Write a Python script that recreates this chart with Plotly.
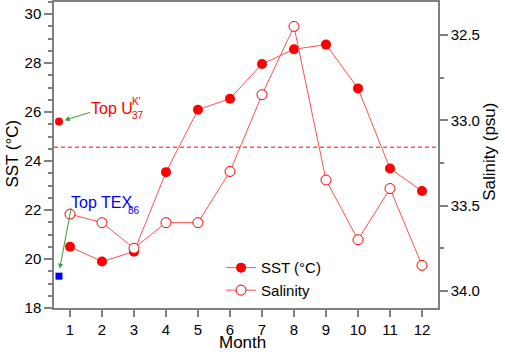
import plotly.graph_objects as go

months = [1, 2, 3, 4, 5, 6, 7, 8, 9, 10, 11, 12]
sst = [20.5, 19.9, 20.3, 23.55, 26.1, 26.55, 27.97, 28.57, 28.76, 26.97, 23.7, 22.78]
salinity = [33.55, 33.60, 33.75, 33.60, 33.60, 33.30, 32.85, 32.45, 33.35, 33.70, 33.40, 33.85]
top_uk37 = 25.62
top_tex86 = 19.3
core_top_x = 0.656
mean_sst = 24.57
x_ticks = months
left_ticks = [18, 20, 22, 24, 26, 28, 30]
right_ticks = [32.5, 33.0, 33.5, 34.0]

FONT = "Arial, Liberation Sans, sans-serif"
RED = "#ff0000"
LINE_RED = "#ff5050"
GRAY = "#808080"
GREEN = "#3a9a3a"

fig = go.Figure()
fig.add_trace(go.Scatter(
    x=months, y=sst, name="SST (°C)", mode="lines+markers",
    line=dict(color=LINE_RED, width=1),
    marker=dict(symbol="circle", size=10, color=RED),
))
fig.add_trace(go.Scatter(
    x=months, y=salinity, name="Salinity", mode="lines+markers", yaxis="y2",
    line=dict(color=LINE_RED, width=1),
    marker=dict(symbol="circle", size=10, color="white", line=dict(color=RED, width=1)),
))
fig.add_trace(go.Scatter(
    x=[core_top_x], y=[top_uk37], mode="markers", showlegend=False,
    marker=dict(symbol="circle", size=8, color=RED),
))
fig.add_trace(go.Scatter(
    x=[core_top_x], y=[top_tex86], mode="markers", showlegend=False,
    marker=dict(symbol="square", size=7, color="#0000ff"),
))

fig.add_shape(type="line", xref="paper", yref="y", x0=0, x1=1, y0=mean_sst, y1=mean_sst,
              line=dict(color=RED, width=1, dash="4px,3px"))

ann = []
# arrows
ann.append(dict(x=0.834, y=25.67, ax=1.669, ay=26.01, xref="x", yref="y", axref="x", ayref="y",
                showarrow=True, arrowhead=2, arrowsize=1, arrowwidth=1, arrowcolor=GREEN, text=""))
ann.append(dict(x=0.678, y=19.61, ax=1.044, ay=22.13, xref="x", yref="y", axref="x", ayref="y",
                showarrow=True, arrowhead=2, arrowsize=1, arrowwidth=1, arrowcolor=GREEN, text=""))
# texts
ann.append(dict(x=1.59, y=26.16, xref="x", yref="y", text="Top U", showarrow=False,
                xanchor="left", yanchor="middle", font=dict(family=FONT, size=16, color=RED)))
ann.append(dict(x=2.88, y=26.45, xref="x", yref="y", text="K'", showarrow=False,
                xanchor="left", yanchor="middle", font=dict(family=FONT, size=10, color=RED)))
ann.append(dict(x=2.88, y=25.87, xref="x", yref="y", text="37", showarrow=False,
                xanchor="left", yanchor="middle", font=dict(family=FONT, size=10, color=RED)))
ann.append(dict(x=0.98, y=22.29, xref="x", yref="y", text="Top TEX", showarrow=False,
                xanchor="left", yanchor="middle", font=dict(family=FONT, size=16, color="#0000ff")))
ann.append(dict(x=2.74, y=21.99, xref="x", yref="y", text="86", showarrow=False,
                xanchor="left", yanchor="middle", font=dict(family=FONT, size=10, color="#0000ff")))
# axis titles
ann.append(dict(x=-0.109, y=0.505, xref="paper", yref="paper", text="SST (°C)", showarrow=False,
                textangle=-90, xanchor="center", yanchor="middle", font=dict(family=FONT, size=17)))
ann.append(dict(x=1.135, y=0.51, xref="paper", yref="paper", text="Salinity (psu)", showarrow=False,
                textangle=-90, xanchor="center", yanchor="middle", font=dict(family=FONT, size=17)))
ann.append(dict(x=0.492, y=-0.114, xref="paper", yref="paper", text="Month", showarrow=False,
                xanchor="center", yanchor="middle", font=dict(family=FONT, size=17)))

fig.update_layout(
    width=505, height=352,
    margin=dict(l=54, r=67, t=2, b=44),
    paper_bgcolor="white", plot_bgcolor="white",
    font=dict(family=FONT, size=15, color="black"),
    annotations=ann,
    showlegend=True,
    legend=dict(x=0.435, y=0.185, xanchor="left", yanchor="top", bgcolor="rgba(0,0,0,0)",
                font=dict(family=FONT, size=15), itemwidth=30, tracegroupgap=0),
    xaxis=dict(range=[0.5, 12.5], tickvals=x_ticks, ticks="outside", ticklen=7, tickwidth=1.5,
               tickcolor=GRAY, showline=True, linecolor=GRAY, linewidth=1.5, mirror=True,
               showgrid=False, zeroline=False, tickfont=dict(size=15), automargin=False),
    yaxis=dict(range=[18, 30.5], tickvals=left_ticks, ticks="outside", ticklen=8, tickwidth=1.5,
               tickcolor=GRAY, showline=True, linecolor=GRAY, linewidth=1.5, automargin=False,
               showgrid=False, zeroline=False, tickfont=dict(size=15),
               minor=dict(dtick=0.5, ticks="outside", ticklen=4, tickcolor=GRAY, tickwidth=1.5, showgrid=False)),
    yaxis2=dict(range=[34.1, 32.307], overlaying="y", side="right", tickvals=right_ticks,
                ticktext=["32.5", "33.0", "33.5", "34.0"], automargin=False,
                ticks="outside", ticklen=8, tickwidth=1.5, tickcolor=GRAY, showline=True,
                linecolor=GRAY, linewidth=1.5, showgrid=False, zeroline=False, tickfont=dict(size=15),
                minor=dict(dtick=0.25, ticks="outside", ticklen=4, tickcolor=GRAY, tickwidth=1.5, showgrid=False)),
)

fig.write_html("out.html", config={"displayModeBar": False},
               post_script="document.body.style.margin='0px';")
